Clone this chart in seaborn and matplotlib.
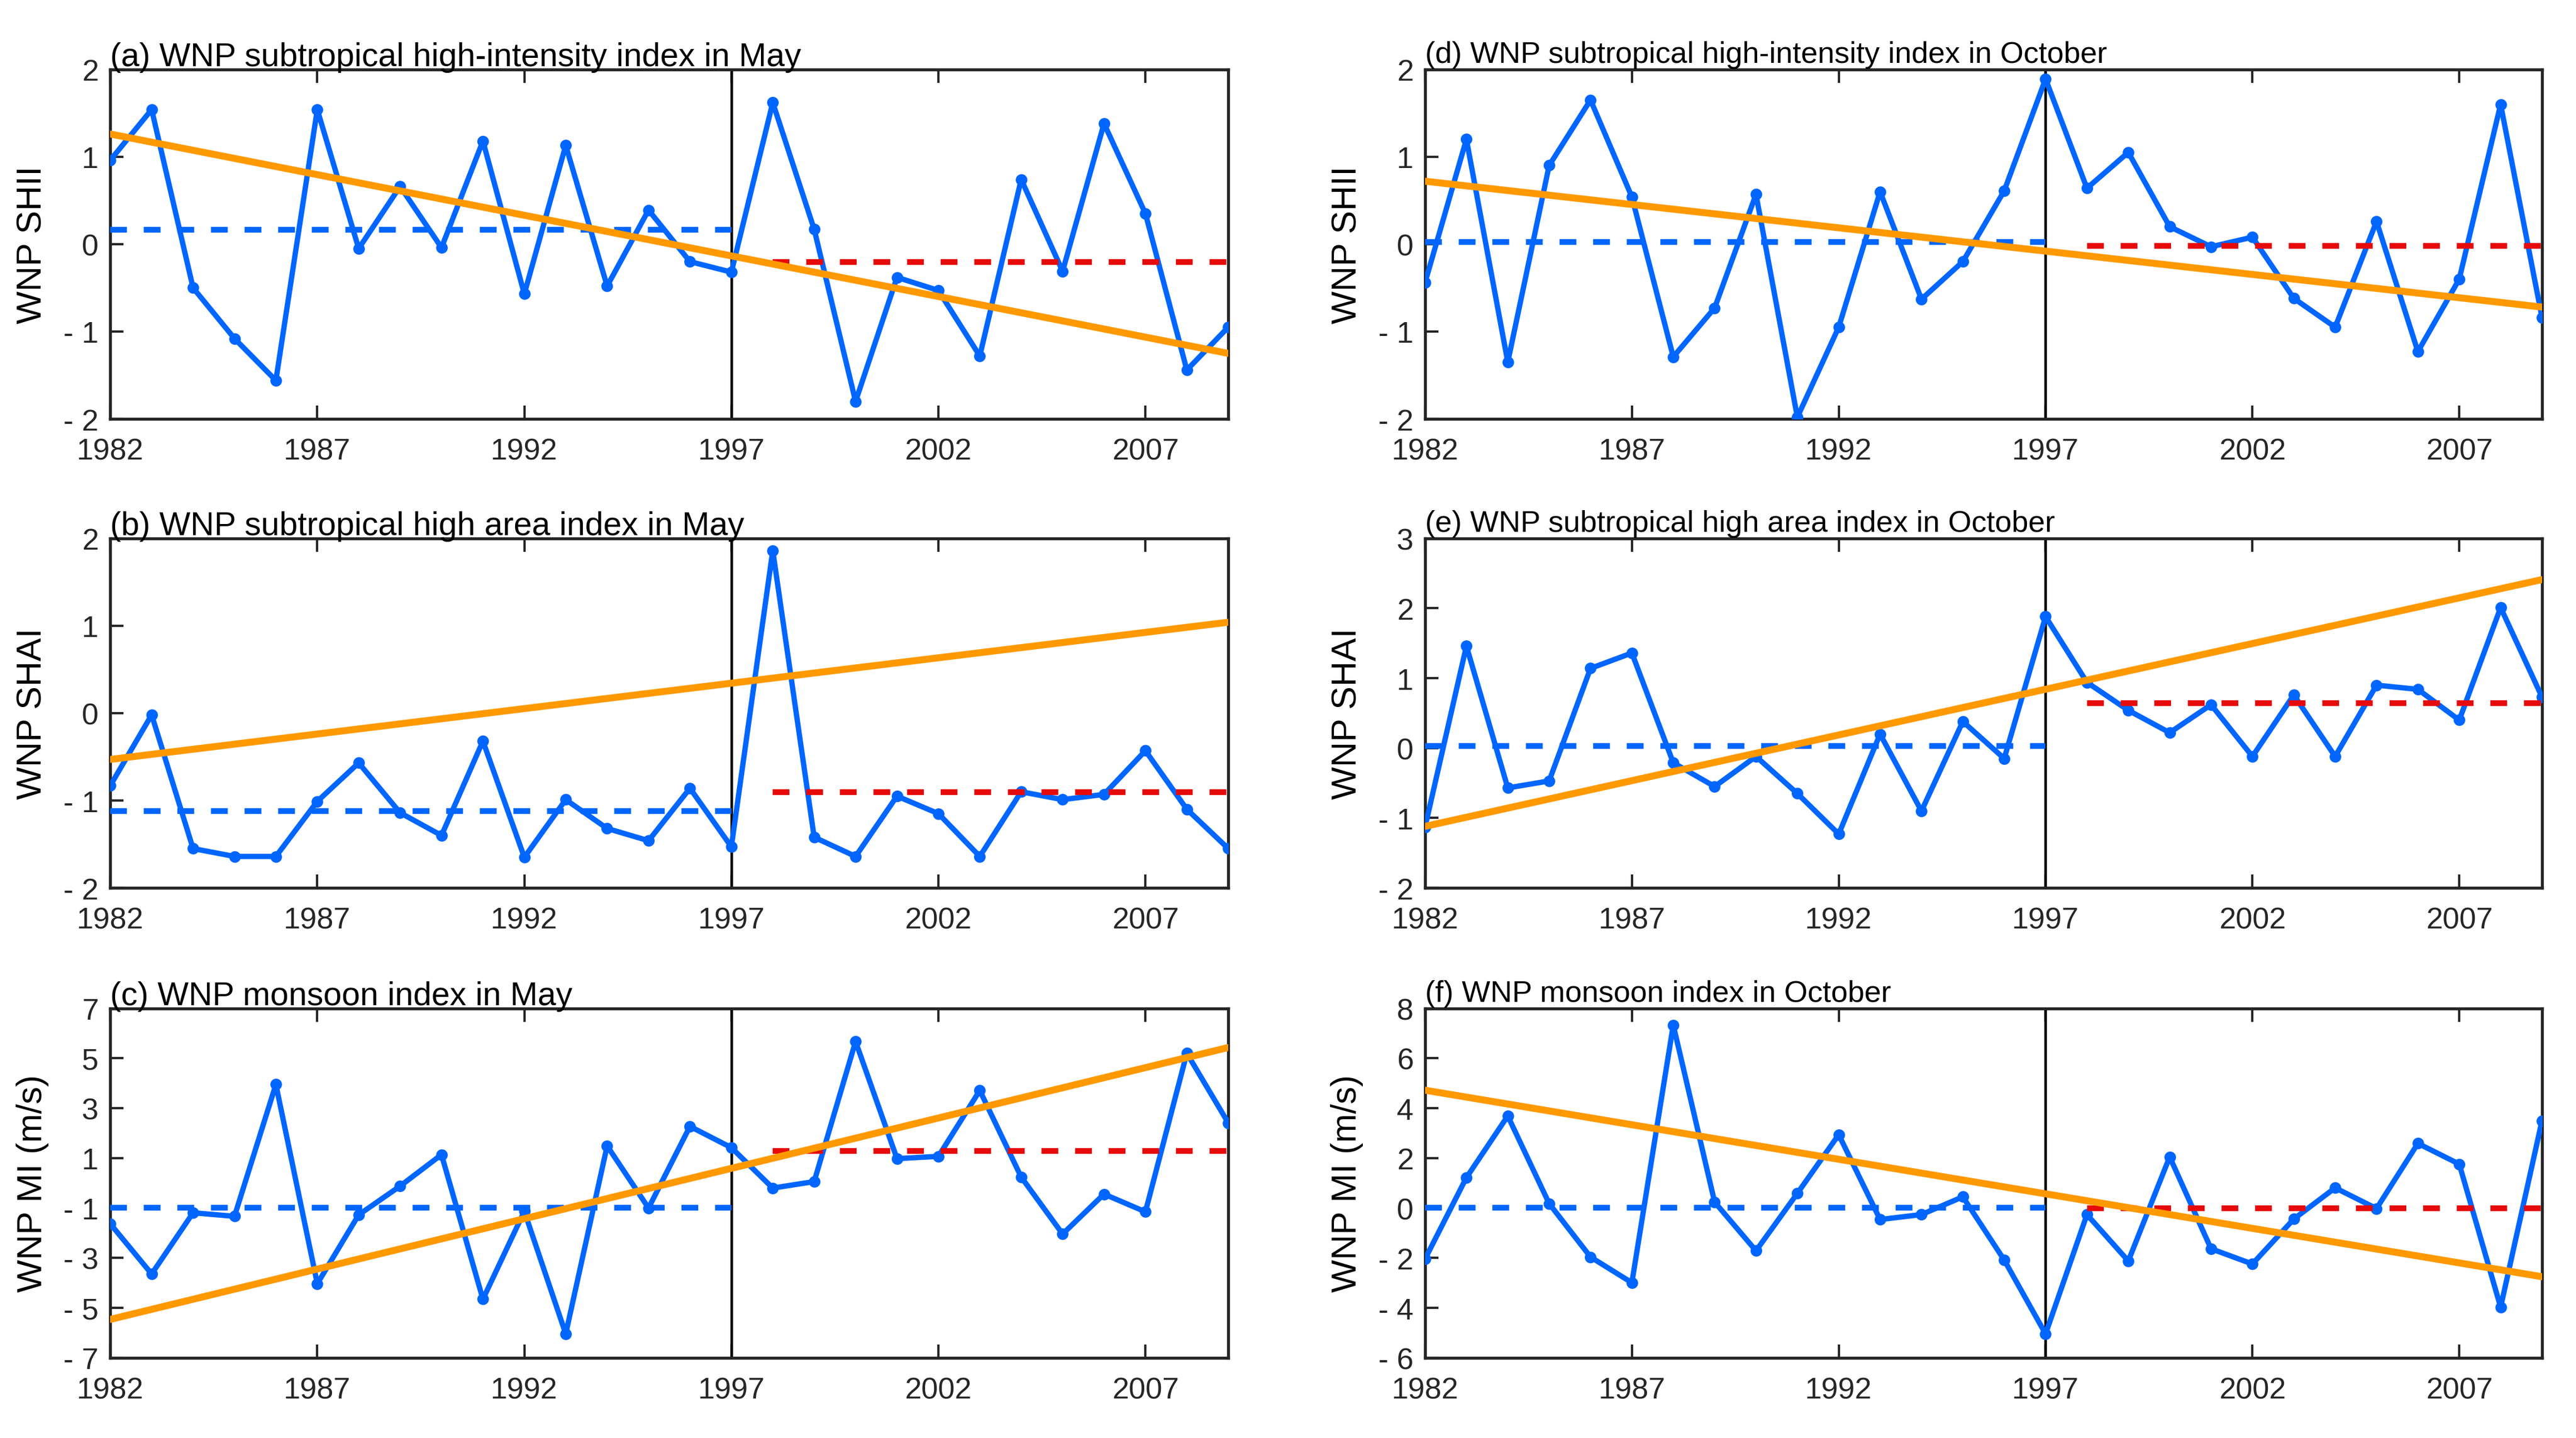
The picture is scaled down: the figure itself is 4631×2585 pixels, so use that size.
import numpy as np
import pandas as pd
import seaborn as sns
import matplotlib
matplotlib.use('Agg')
import matplotlib.pyplot as plt

years = list(range(1982, 2010))

# index values, 1982-2009
shii_may = [0.96, 1.54, -0.50, -1.08, -1.56, 1.54, -0.05, 0.66, -0.04, 1.18, -0.57, 1.13, -0.48, 0.39, -0.20, -0.32,
            1.62, 0.17, -1.80, -0.38, -0.53, -1.28, 0.74, -0.31, 1.38, 0.35, -1.44, -0.95]
shai_may = [-0.83, -0.02, -1.55, -1.64, -1.64, -1.01, -0.57, -1.14, -1.40, -0.32, -1.65, -0.99, -1.32, -1.46, -0.86, -1.53,
            1.86, -1.42, -1.64, -0.95, -1.15, -1.64, -0.90, -0.99, -0.93, -0.43, -1.10, -1.55]
mi_may = [-1.63, -3.64, -1.19, -1.33, 3.95, -4.03, -1.27, -0.12, 1.14, -4.65, -1.13, -6.04, 1.49, -1.00, 2.27, 1.42,
          -0.20, 0.06, 5.67, 0.98, 1.07, 3.71, 0.24, -2.04, -0.44, -1.15, 5.20, 2.41]
shii_oct = [-0.44, 1.20, -1.35, 0.90, 1.65, 0.54, -1.29, -0.73, 0.57, -1.98, -0.95, 0.60, -0.63, -0.20, 0.61, 1.89,
            0.64, 1.05, 0.20, -0.03, 0.08, -0.62, -0.95, 0.26, -1.23, -0.40, 1.60, -0.84]
shai_oct = [-1.13, 1.46, -0.57, -0.47, 1.14, 1.36, -0.21, -0.55, -0.12, -0.65, -1.23, 0.20, -0.90, 0.38, -0.15, 1.88,
            0.94, 0.54, 0.22, 0.62, -0.12, 0.76, -0.12, 0.90, 0.84, 0.40, 2.01, 0.73]
mi_oct = [-2.04, 1.22, 3.69, 0.18, -1.96, -2.99, 7.33, 0.24, -1.71, 0.59, 2.94, -0.46, -0.26, 0.45, -2.08, -5.04,
          -0.26, -2.12, 2.05, -1.63, -2.24, -0.44, 0.81, -0.02, 2.59, 1.76, -3.97, 3.50]

# trend line values at 1982 and 2009
trend_shii_may = [1.26, -1.25]
trend_shai_may = [-0.53, 1.04]
trend_mi_may = [-5.46, 5.43]
trend_shii_oct = [0.72, -0.72]
trend_shai_oct = [-1.12, 2.41]
trend_mi_oct = [4.72, -2.75]

titles = ['(a) WNP subtropical high-intensity index in May',
          '(b) WNP subtropical high area index in May',
          '(c) WNP monsoon index in May',
          '(d) WNP subtropical high-intensity index in October',
          '(e) WNP subtropical high area index in October',
          '(f) WNP monsoon index in October']
ylabels = ['WNP SHII', 'WNP SHAI', 'WNP MI (m/s)', 'WNP SHII', 'WNP SHAI', 'WNP MI (m/s)']
yticks = [[-2, -1, 0, 1, 2], [-2, -1, 0, 1, 2], [-7, -5, -3, -1, 1, 3, 5, 7],
          [-2, -1, 0, 1, 2], [-2, -1, 0, 1, 2, 3], [-6, -4, -2, 0, 2, 4, 6, 8]]
xticks = [1982, 1987, 1992, 1997, 2002, 2007]

series = [shii_may, shai_may, mi_may, shii_oct, shai_oct, mi_oct]
trends = [trend_shii_may, trend_shai_may, trend_mi_may, trend_shii_oct, trend_shai_oct, trend_mi_oct]

blue = '#0066ff'
red = '#e60a0a'
orange = '#ff9900'
dark = '#262626'

sns.set_style('ticks')
plt.rcParams['font.family'] = ['Liberation Sans', 'DejaVu Sans']

fig = plt.figure(figsize=(4631 / 300, 2586 / 300), dpi=300)

lefts = [0.0428, 0.5532]
widths = [0.434, 0.4336]
bottoms = [0.7084, 0.3824, 0.0557]
height = 0.243
title_sizes = [14.2, 13]
title_pads = [1.5, 3]


def tick_text(v):
    return '- %d' % abs(v) if v < 0 else '%d' % v


for i in range(6):
    col, row = i // 3, i % 3
    ax = fig.add_axes([lefts[col], bottoms[row], widths[col], height])
    df = pd.DataFrame({'year': years, 'value': series[i]})

    ax.axvline(1997, color='black', lw=1.1, zorder=1)
    sns.lineplot(data=df, x='year', y='value', ax=ax, color=blue, lw=2.3,
                 marker='o', markersize=5, markeredgewidth=0, zorder=3)

    early = df[df['year'] <= 1997]['value'].mean()
    late = df[df['year'] >= 1998]['value'].mean()
    ax.plot([1982, 1997], [early, early], color=blue, lw=2.5, dashes=(2.9, 2.9), zorder=4)
    ax.plot([1998, 2009], [late, late], color=red, lw=2.5, dashes=(2.9, 2.9), zorder=4)

    sns.lineplot(x=[1982, 2009], y=trends[i], ax=ax, color=orange, lw=3, zorder=5)

    ax.set_xlim(1982, 2009)
    ax.set_ylim(yticks[i][0], yticks[i][-1])
    ax.set_xticks(xticks)
    ax.set_yticks(yticks[i])
    ax.set_yticklabels([tick_text(v) for v in yticks[i]])
    ax.tick_params(axis='x', direction='in', top=True, bottom=True, length=5.7, width=1,
                   labelsize=13, pad=8, colors=dark)
    ax.tick_params(axis='y', direction='in', left=True, right=False, length=5.7, width=1,
                   labelsize=13, pad=5, colors=dark)
    for s in ax.spines.values():
        s.set_linewidth(1.3)
        s.set_color(dark)

    ax.set_xlabel('')
    ax.set_ylabel(ylabels[i], fontsize=15, color='black')
    ax.yaxis.set_label_coords(-0.055, 0.5)
    ax.set_title(titles[i], loc='left', fontsize=title_sizes[col], pad=title_pads[col], color='black')

fig.savefig('out.png', dpi=300)
